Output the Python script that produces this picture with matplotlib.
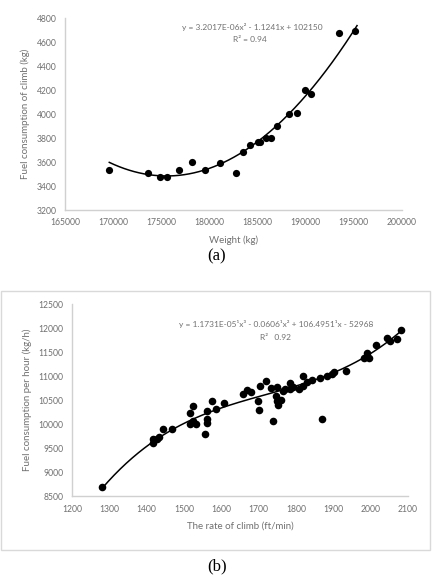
import numpy as np
import matplotlib
matplotlib.use("Agg")
import matplotlib.pyplot as plt
from matplotlib.patches import Rectangle

# ---------------- data (a) ----------------
weight_kg = [169600, 173650, 174870, 175560, 176840, 178190, 179540, 181130,
             182760, 183490, 184210, 185040, 185250, 185870, 186430, 187020,
             188230, 189130, 189920, 190510, 193490, 195080]
fuel_climb_kg = [3535, 3507, 3476, 3476, 3535, 3596, 3535, 3588,
                 3512, 3686, 3744, 3764, 3768, 3797, 3797, 3903,
                 4001, 4010, 4197, 4169, 4671, 4691]
fit_a = [3.2017e-06, -1.1241, 102150]  # quadratic trendline
eq_a = "y = 3.2017E-06x² - 1.1241x + 102150"
r2_a = "R² = 0.94"
xticks_a = [165000, 170000, 175000, 180000, 185000, 190000, 195000, 200000]
yticks_a = [3200, 3400, 3600, 3800, 4000, 4200, 4400, 4600, 4800]

# ---------------- data (b) ----------------
rate_ftmin = [1281, 1416, 1416, 1427, 1434, 1445, 1467, 1515, 1515, 1525,
              1525, 1531, 1555, 1561, 1561, 1561, 1576, 1586, 1607, 1658,
              1668, 1679, 1699, 1702, 1704, 1719, 1733, 1739, 1747, 1750,
              1750, 1753, 1760, 1765, 1771, 1784, 1784, 1791, 1808, 1818,
              1819, 1829, 1844, 1864, 1870, 1884, 1896, 1903, 1934, 1981,
              1991, 1995, 2014, 2043, 2053, 2070, 2080]
fuel_hour = [8700, 9602, 9692, 9692, 9734, 9893, 9893, 10004, 10226, 10384,
             10066, 10004, 9802, 10018, 10108, 10274, 10482, 10309, 10434, 10621,
             10711, 10676, 10482, 10295, 10787, 10892, 10752, 10066, 10593, 10780,
             10482, 10399, 10497, 10697, 10726, 10850, 10726, 10780, 10726, 10794,
             11008, 10871, 10912, 10967, 10114, 11008, 11044, 11079, 11100, 11377,
             11474, 11383, 11647, 11786, 11730, 11765, 11966]
fit_b = [1.1731e-05, -0.0606, 106.4951, -52968]  # cubic trendline
eq_b = "y = 1.1731E-05\u00b9x³ - 0.0606\u00b9x² + 106.4951\u00b9x - 52968"
r2_b = "R²   0.92"
xticks_b = [1200, 1300, 1400, 1500, 1600, 1700, 1800, 1900, 2000, 2100]
yticks_b = [8500, 9000, 9500, 10000, 10500, 11000, 11500, 12000, 12500]

# ---------------- style ----------------
plt.rcParams['font.family'] = ['Lato', 'DejaVu Sans']
TXT = '#707070'
AX = '#d0d0d0'

W, H = 434, 582
fig = plt.figure(figsize=(W / 100, H / 100), dpi=100)


def style_axes(ax):
    for s in ['top', 'right']:
        ax.spines[s].set_visible(False)
    for s in ['left', 'bottom']:
        ax.spines[s].set_color(AX)
        ax.spines[s].set_linewidth(1.0)
    ax.tick_params(length=0, labelsize=6.2, colors=TXT, pad=6)


# ---- panel (a) ----
ax1 = fig.add_axes([65 / W, 1 - 210 / H, (402 - 65) / W, (210 - 18) / H])
style_axes(ax1)
ax1.set_xlim(165000, 200000)
ax1.set_ylim(3200, 4800)
ax1.set_xticks(xticks_a)
ax1.set_yticks(yticks_a)
ax1.scatter(weight_kg, fuel_climb_kg, s=27, color='black', zorder=3, linewidths=0)
xa = np.linspace(min(weight_kg), max(weight_kg) + 250, 200)
ax1.plot(xa, np.polyval(fit_a, xa), color='black', lw=1.1, zorder=2)
ax1.set_xlabel("Weight (kg)", fontsize=7, color=TXT, labelpad=6)
ax1.set_ylabel("Fuel consumption of climb (kg)", fontsize=7, color=TXT, labelpad=5)
fig.text(252 / W, 1 - 27 / H, eq_a, ha='center', va='center', fontsize=6, color=TXT)
fig.text(250 / W, 1 - 40 / H, r2_a, ha='center', va='center', fontsize=6, color=TXT)
fig.text(217 / W, 1 - 256 / H, "(a)", ha='center', va='center', fontsize=12,
         family=['Liberation Serif', 'DejaVu Serif'], color='black')

# ---- panel (b) ----
fig.patches.append(Rectangle((1 / W, 1 - 550 / H), 429 / W, (550 - 291) / H,
                             transform=fig.transFigure, fill=False,
                             edgecolor='#d9d9d9', lw=1.0))
ax2 = fig.add_axes([72 / W, 1 - 496.3 / H, (408 - 72) / W, (496.3 - 304) / H])
style_axes(ax2)
ax2.set_xlim(1200, 2100)
ax2.set_ylim(8500, 12500)
ax2.set_xticks(xticks_b)
ax2.set_yticks(yticks_b)
ax2.scatter(rate_ftmin, fuel_hour, s=30, color='black', zorder=3, linewidths=0)
xb = np.linspace(min(rate_ftmin), max(rate_ftmin), 200)
ax2.plot(xb, np.polyval(fit_b, xb), color='black', lw=1.1, zorder=2)
ax2.set_xlabel("The rate of climb (ft/min)", fontsize=7, color=TXT, labelpad=6)
ax2.set_ylabel("Fuel consumption per hour (kg/h)", fontsize=7, color=TXT, labelpad=5)
fig.text(276 / W, 1 - 324 / H, eq_b, ha='center', va='center', fontsize=6, color=TXT)
fig.text(275 / W, 1 - 337 / H, r2_b, ha='center', va='center', fontsize=6, color=TXT)
fig.text(217 / W, 1 - 566 / H, "(b)", ha='center', va='center', fontsize=12,
         family=['Liberation Serif', 'DejaVu Serif'], color='black')

fig.savefig("out.png", dpi=100, facecolor='white')
